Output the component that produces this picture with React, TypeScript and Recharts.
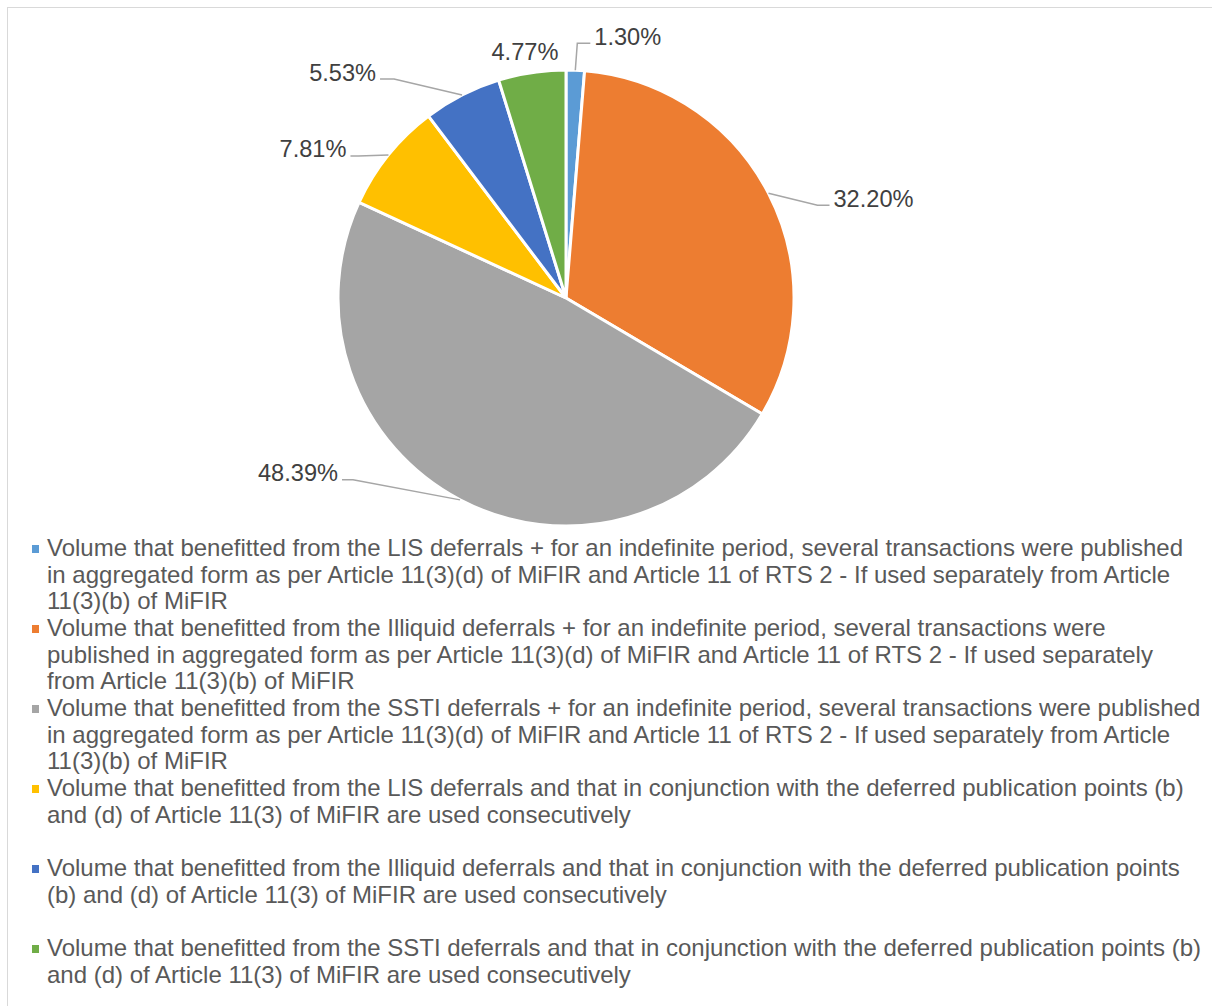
import { PieChart, Pie, Cell, Legend } from 'recharts'

const NAMES = [
  'Volume that benefitted from the LIS deferrals + for an indefinite period, several transactions were published\nin aggregated form as per Article 11(3)(d) of MiFIR and Article 11 of RTS 2 - If used separately from Article\n11(3)(b) of MiFIR',
  'Volume that benefitted from the Illiquid deferrals + for an indefinite period, several transactions were\npublished in aggregated form as per Article 11(3)(d) of MiFIR and Article 11 of RTS 2 - If used separately\nfrom Article 11(3)(b) of MiFIR',
  'Volume that benefitted from the SSTI deferrals + for an indefinite period, several transactions were published\nin aggregated form as per Article 11(3)(d) of MiFIR and Article 11 of RTS 2 - If used separately from Article\n11(3)(b) of MiFIR',
  'Volume that benefitted from the LIS deferrals and that in conjunction with the deferred publication points (b)\nand (d) of Article 11(3) of MiFIR are used consecutively',
  'Volume that benefitted from the Illiquid deferrals and that in conjunction with the deferred publication points\n(b) and (d) of Article 11(3) of MiFIR are used consecutively',
  'Volume that benefitted from the SSTI deferrals and that in conjunction with the deferred publication points (b)\nand (d) of Article 11(3) of MiFIR are used consecutively',
]
const SHARES = [1.3, 32.2, 48.39, 7.81, 5.53, 4.77]
const COLORS = ['#5B9BD5', '#ED7D31', '#A5A5A5', '#FFC000', '#4472C4', '#70AD47']

// leader line layout per label: elbow offset from slice edge, then horizontal run
const LEADERS = [
  { dx: 2, dy: -27, hx: 13 },
  { dx: 49, dy: 12, hx: 12 },
  { dx: -107, dy: -20, hx: -11 },
  { dx: -30, dy: 1, hx: -8 },
  { dx: -68, dy: -16, hx: -14 },
  { dx: -7, dy: -21, hx: 0 },
]

const data = NAMES.map((name, i) => ({ name, value: SHARES[i] }))
const RAD = Math.PI / 180
const FONT = "'Liberation Sans', Arial, sans-serif"

function renderLabel(p: any) {
  const { cx, cy, midAngle, outerRadius, index, value } = p
  const ex = cx + Math.cos(-midAngle * RAD) * outerRadius
  const ey = cy + Math.sin(-midAngle * RAD) * outerRadius
  const l = LEADERS[index]
  const bx = ex + l.dx
  const by = ey + l.dy
  const text = `${value.toFixed(2)}%`
  if (l.hx === 0) {
    return (
      <text x={bx} y={by} textAnchor="middle" dominantBaseline="central" fill="#404040" fontSize={23.6} fontFamily={FONT}>
        {text}
      </text>
    )
  }
  const endX = bx + l.hx
  return (
    <g>
      <polyline points={`${ex},${ey} ${bx},${by} ${endX},${by}`} fill="none" stroke="#A6A6A6" strokeWidth={1.5} />
      <text
        x={l.hx > 0 ? endX + 4 : endX - 4}
        y={by - 6.5}
        textAnchor={l.hx > 0 ? 'start' : 'end'}
        dominantBaseline="central"
        fill="#404040"
        fontSize={23.6}
        fontFamily={FONT}
      >
        {text}
      </text>
    </g>
  )
}

function LegendBox() {
  return (
    <div style={{ fontFamily: FONT, fontSize: 24, color: '#595959' }}>
      {NAMES.map((n, i) => (
        <div key={i} style={{ position: 'relative', height: 80, paddingLeft: 47, lineHeight: '26.7px', whiteSpace: 'pre' }}>
          <span style={{ position: 'absolute', left: 32, top: 9.5, width: 7, height: 8, background: COLORS[i] }} />
          {n}
        </div>
      ))}
    </div>
  )
}

export default function App() {
  return (
    <div style={{ position: 'absolute', left: 0, top: 0, width: 1212, height: 1006, background: '#fff', overflow: 'hidden' }}>
      <div style={{ position: 'absolute', left: 7, top: 7, width: 1220, height: 1020, border: '1.5px solid #D9D9D9' }} />
      <div style={{ position: 'absolute', left: 0, top: 0 }}>
        <PieChart width={1212} height={1006} margin={{ top: 0, right: 0, bottom: 0, left: 0 }}>
          <Pie
            data={data}
            dataKey="value"
            nameKey="name"
            cx={566}
            cy={298}
            outerRadius={228}
            startAngle={90}
            endAngle={-270}
            stroke="#fff"
            strokeWidth={3}
            label={renderLabel}
            labelLine={false}
            isAnimationActive={false}
          >
            {data.map((_, i) => (
              <Cell key={i} fill={COLORS[i]} />
            ))}
          </Pie>
          <Legend content={() => <LegendBox />} wrapperStyle={{ position: 'absolute', left: 0, top: 535, width: 1212 }} />
        </PieChart>
      </div>
    </div>
  )
}
